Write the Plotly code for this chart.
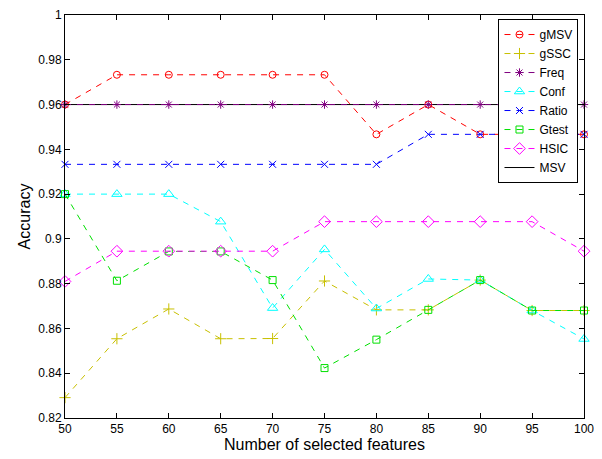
import plotly.graph_objects as go

features = [50, 55, 60, 65, 70, 75, 80, 85, 90, 95, 100]

gMSV = [0.960, 0.9733, 0.9733, 0.9733, 0.9733, 0.9733, 0.9467, 0.960, 0.9467, 0.9467, 0.9467]
gSSC = [0.8291, 0.8554, 0.8687, 0.8554, 0.8555, 0.8812, 0.8683, 0.8683, 0.8816, 0.868, 0.868]
Freq = [0.960, 0.960, 0.960, 0.960, 0.960, 0.960, 0.960, 0.960, 0.960, 0.960, 0.960]
Conf = [0.920, 0.920, 0.920, 0.9077, 0.8691, 0.8953, 0.8689, 0.8821, 0.8816, 0.868, 0.8553]
Ratio = [0.9333, 0.9333, 0.9333, 0.9333, 0.9333, 0.9333, 0.9333, 0.9467, 0.9467, 0.9467, 0.9467]
Gtest = [0.920, 0.8813, 0.8944, 0.8944, 0.8816, 0.8423, 0.855, 0.8683, 0.8816, 0.868, 0.868]
HSIC = [0.881, 0.8945, 0.8945, 0.8945, 0.8945, 0.9077, 0.9077, 0.9077, 0.9077, 0.9077, 0.8945]
MSV = [0.960, 0.960, 0.960, 0.960, 0.960, 0.960, 0.960, 0.960, 0.960, 0.960, 0.960]

x_ticks = [50, 55, 60, 65, 70, 75, 80, 85, 90, 95, 100]
y_ticks = [0.82, 0.84, 0.86, 0.88, 0.90, 0.92, 0.94, 0.96, 0.98, 1.0]
y_labels = ["0.82", "0.84", "0.86", "0.88", "0.9", "0.92", "0.94", "0.96", "0.98", "1"]

DASH = "6px,6px"

fig = go.Figure()

def add(name, y, color, symbol, size, rank, dash=DASH, mode="lines+markers"):
    fig.add_trace(go.Scatter(
        x=features, y=y, name=name, mode=mode,
        line=dict(color=color, width=1, dash=dash),
        marker=dict(symbol=symbol, size=size, color=color,
                    line=dict(color=color, width=1)),
        cliponaxis=False, legendrank=rank,
    ))

add("MSV", MSV, "#000000", "circle", 1, 8, dash="solid", mode="lines")
add("gMSV", gMSV, "#FF0000", "circle-open", 7, 1)
add("gSSC", gSSC, "#C8C000", "cross-thin-open", 8, 2)
add("Freq", Freq, "#800080", "asterisk-open", 7, 3)
add("Conf", Conf, "#00FFFF", "triangle-up-open", 9, 4)
add("Ratio", Ratio, "#0000FF", "x-thin-open", 7, 5)
add("Gtest", Gtest, "#00E000", "square-open", 7, 6)
add("HSIC", HSIC, "#FF00FF", "diamond-open", 9, 7)

axis_common = dict(
    showline=True, linecolor="black", linewidth=1, mirror="ticks",
    ticks="inside", ticklen=5, tickcolor="black", showgrid=False, zeroline=False,
    automargin=False, ticklabeloverflow="allow",
    tickfont=dict(family="Liberation Sans, Arial", size=12, color="black"),
)

# page body has an 8px default margin; compensate so the plot area lands where the reference has it
fig.update_layout(
    width=594, height=451,
    margin=dict(l=57, r=18, t=7, b=41),
    paper_bgcolor="white", plot_bgcolor="white",
    font=dict(family="Liberation Sans, Arial", size=12, color="black"),
    xaxis=dict(range=[50, 100], tickvals=x_ticks,
               title=dict(text="Number of selected features", font=dict(size=16), standoff=3),
               **axis_common),
    yaxis=dict(range=[0.82, 1.0], tickvals=y_ticks, ticktext=y_labels,
               title=dict(text="Accuracy", font=dict(size=16), standoff=3),
               **axis_common),
    legend=dict(x=0.9894, y=0.99, xanchor="right", yanchor="top",
                bgcolor="white", bordercolor="black", borderwidth=1,
                font=dict(size=12)),
    showlegend=True,
)

fig.write_html("out.html")
